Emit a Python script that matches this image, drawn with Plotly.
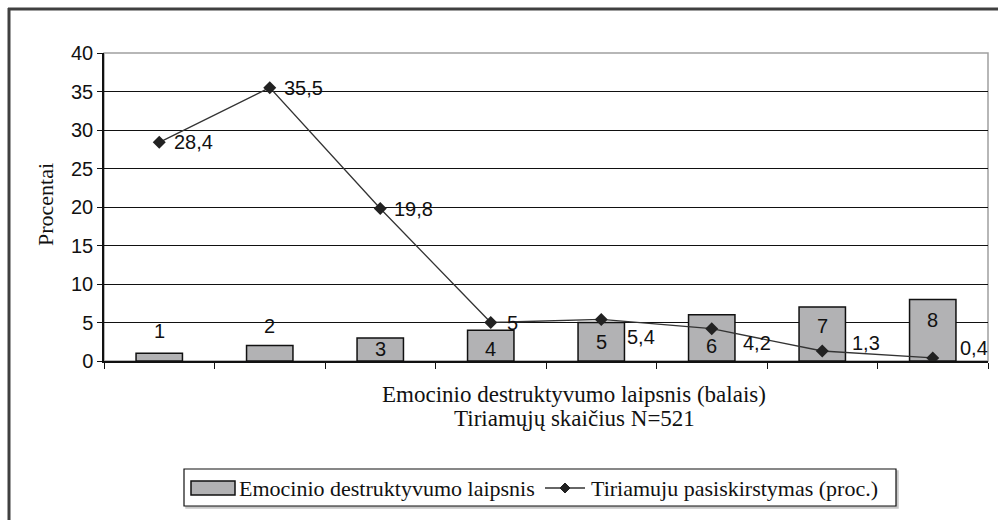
import plotly.graph_objects as go

categories = [1, 2, 3, 4, 5, 6, 7, 8]
bar_values = [1, 2, 3, 4, 5, 6, 7, 8]
line_values = [28.4, 35.5, 19.8, 5, 5.4, 4.2, 1.3, 0.4]
line_labels = ["28,4", "35,5", "19,8", "5", "5,4", "4,2", "1,3", "0,4"]
y_ticks = [0, 5, 10, 15, 20, 25, 30, 35, 40]

bar_name = "Emocinio destruktyvumo laipsnis"
line_name = "Tiriamuju pasiskirstymas (proc.)"
x_title_1 = "Emocinio destruktyvumo laipsnis (balais)"
x_title_2 = "Tiriamųjų skaičius N=521"
y_title = "Procentai"

W, H = 998, 520
L, R, T, B = 104, 10, 53, 159
PW, PH = W - L - R, H - T - B

SANS = "Liberation Sans"
SERIF = "Liberation Serif"
NUM_SIZE = 20
TXT = "#111111"

fig = go.Figure()
fig.add_trace(go.Bar(
    x=categories, y=bar_values, name=bar_name, width=0.42,
    marker=dict(color="#b2b2b4", line=dict(color=TXT, width=1.5)),
    showlegend=False,
))
fig.add_trace(go.Scatter(
    x=categories, y=line_values, name=line_name, mode="lines+markers",
    line=dict(color="#333333", width=1.3),
    marker=dict(symbol="diamond", size=10, color="#222222"),
    showlegend=False,
))

# bar labels: first two above the bar, others inside
bar_offsets = [(0, 26), (0, 27), (0, 0), (0, -3), (0, 0), (0, -8), (0, 8), (0, 10)]
for c, v, (dx, dy) in zip(categories, bar_values, bar_offsets):
    fig.add_annotation(x=c, y=v / 2, text=str(v), showarrow=False,
                       xshift=dx, yshift=dy,
                       font=dict(family=SANS, size=NUM_SIZE, color=TXT))

# line labels to the right of the markers
line_offsets = [(13, 0), (12, 0), (12, 0), (14, 0), (24, -18), (29, -14), (28, 8), (25, 10)]
for c, v, t, (dx, dy) in zip(categories, line_values, line_labels, line_offsets):
    fig.add_annotation(x=c, y=v, text=t, showarrow=False, xanchor="left",
                       xshift=dx, yshift=dy,
                       font=dict(family=SANS, size=NUM_SIZE, color=TXT))

def px_x(px):
    return (px - L) / PW

def px_y(py):
    return (H - B - py) / PH

def paper_text(x, y, text, size, xanchor="center", angle=0):
    fig.add_annotation(xref="paper", yref="paper", x=px_x(x), y=px_y(y),
                       xanchor=xanchor, yanchor="middle", textangle=angle,
                       text=text, showarrow=False,
                       font=dict(family=SERIF, size=size, color=TXT))

# axis titles
paper_text(574, 394, x_title_1, 23)
paper_text(574, 419, x_title_2, 23)
paper_text(45, 205, y_title, 22, angle=-90)

# plot area border (grey)
fig.add_shape(type="rect", xref="paper", yref="paper", x0=0, x1=1, y0=0, y1=1,
              line=dict(color="#a0a0a0", width=1.5), layer="below")
# outer frame (top and left)
fig.add_shape(type="line", xref="paper", yref="paper",
              x0=px_x(8), x1=px_x(1000), y0=px_y(9), y1=px_y(9),
              line=dict(color="#404040", width=3))
fig.add_shape(type="line", xref="paper", yref="paper",
              x0=px_x(9), x1=px_x(9), y0=px_y(8), y1=px_y(522),
              line=dict(color="#404040", width=3))

# custom legend
lx0, lx1, ly0, ly1 = 184, 896, 469, 506
fig.add_shape(type="rect", xref="paper", yref="paper",
              x0=px_x(lx0 + 2), x1=px_x(lx1 + 2), y0=px_y(ly1 + 2), y1=px_y(ly0 + 2),
              line=dict(color="#c8c8c8", width=1.5), fillcolor="#c8c8c8")
fig.add_shape(type="rect", xref="paper", yref="paper",
              x0=px_x(lx0), x1=px_x(lx1), y0=px_y(ly1), y1=px_y(ly0),
              line=dict(color=TXT, width=1.2), fillcolor="white")
fig.add_shape(type="rect", xref="paper", yref="paper",
              x0=px_x(191), x1=px_x(235), y0=px_y(495), y1=px_y(481),
              line=dict(color=TXT, width=1.5), fillcolor="#b2b2b4")
fig.add_shape(type="line", xref="paper", yref="paper",
              x0=px_x(545), x1=px_x(585), y0=px_y(488), y1=px_y(488),
              line=dict(color="#333333", width=1.3))
fig.add_shape(type="path", xref="paper", yref="paper",
              path=(f"M {px_x(565)},{px_y(483)} L {px_x(570)},{px_y(488)} "
                    f"L {px_x(565)},{px_y(493)} L {px_x(560)},{px_y(488)} Z"),
              line=dict(color="#222222", width=1), fillcolor="#222222")
paper_text(237, 488, bar_name, 22, xanchor="left")
paper_text(589, 488, line_name, 22, xanchor="left")

fig.update_layout(
    width=W, height=H,
    margin=dict(l=L, r=R, t=T, b=B, autoexpand=False),
    paper_bgcolor="white", plot_bgcolor="white",
    showlegend=False,
    xaxis=dict(range=[0.5, 8.5], tickvals=[0.5 + i for i in range(9)],
               showticklabels=False, ticks="outside", ticklen=6,
               tickcolor=TXT, showgrid=False, zeroline=False,
               showline=True, linecolor=TXT, linewidth=1.5),
    yaxis=dict(range=[0, 40], tickvals=y_ticks, ticks="outside", ticklen=5,
               tickcolor=TXT, showgrid=True, gridcolor=TXT,
               gridwidth=1, zeroline=False, showline=True,
               linecolor=TXT, linewidth=1.5,
               tickfont=dict(family=SANS, size=NUM_SIZE, color=TXT)),
)

fig.write_html("out.html", config={"displayModeBar": False},
               post_script="document.body.style.margin='0';")
